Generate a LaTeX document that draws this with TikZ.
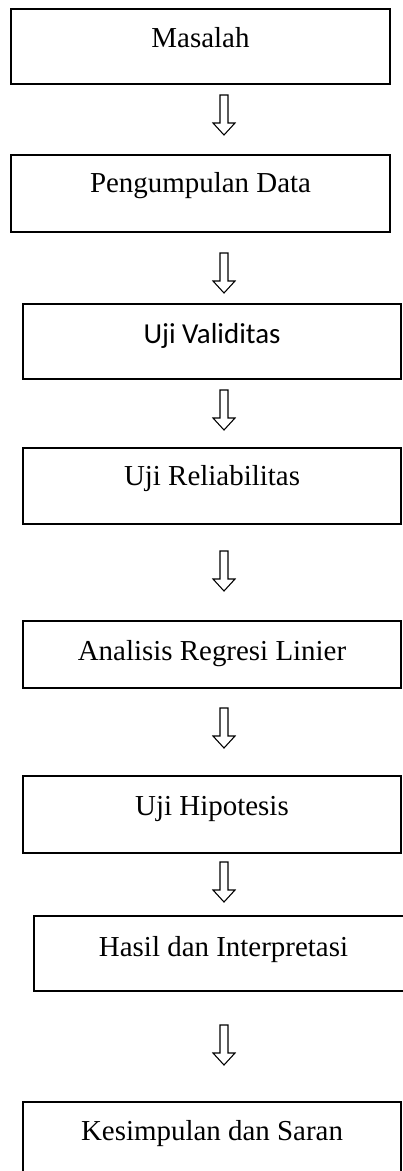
\documentclass[tikz,border=0pt]{standalone}
\usepackage{fontspec}
\setmainfont{Liberation Serif}
\newfontfamily\calibrifont{Carlito}

\tikzset{
  etape/.style={draw, line width=1.4pt, rectangle, anchor=north west,
    inner sep=0pt, outer sep=0pt, font=\fontsize{21.7}{26}\selectfont},
  fleche/.style={draw, line width=0.8pt, fill=white},
  descente/.pic={\path[fleche] (-4,0) -- (4,0) -- (4,28) -- (11,28) -- (0,40) -- (-11,28) -- (-4,28) -- cycle;}
}

\begin{document}
\begin{tikzpicture}[x=0.75pt, y=-0.75pt]
    % cadre de la page (en pixels)
    \useasboundingbox (0,0) rectangle (403,1171);
    \clip (0,0) rectangle (403,1171);

    % les etapes
    \node[etape, minimum width=284.25pt, text height=28.5pt, text depth=27.75pt] (masalah) at (11,9) {Masalah};
    \node[etape, minimum width=284.25pt, text height=27.75pt, text depth=30pt] (data) at (11,155) {Pengumpulan Data};
    \node[etape, minimum width=283.5pt, text height=29.25pt, text depth=27pt] (validitas) at (23,304) {\calibrifont Uji Validitas};
    \node[etape, minimum width=283.5pt, text height=27.75pt, text depth=29.25pt] (reliabilitas) at (23,448) {Uji Reliabilitas};
    \node[etape, minimum width=283.5pt, text height=29.25pt, text depth=21pt] (regresi) at (23,621) {Analisis Regresi Linier};
    \node[etape, minimum width=283.5pt, text height=29.25pt, text depth=28.5pt] (hipotesis) at (23,776) {Uji Hipotesis};
    \node[etape, minimum width=284.25pt, text height=30pt, text depth=26.25pt] (hasil) at (34,916) {Hasil dan Interpretasi};
    \node[etape, minimum width=283.5pt, text height=28.5pt, text depth=30pt] (kesimpulan) at (23,1102) {Kesimpulan dan Saran};

    % fleches creuses entre les etapes
    \foreach \y in {95,253,390,551,708,862,1025}
        \pic at (224,\y) {descente};
\end{tikzpicture}
\end{document}
